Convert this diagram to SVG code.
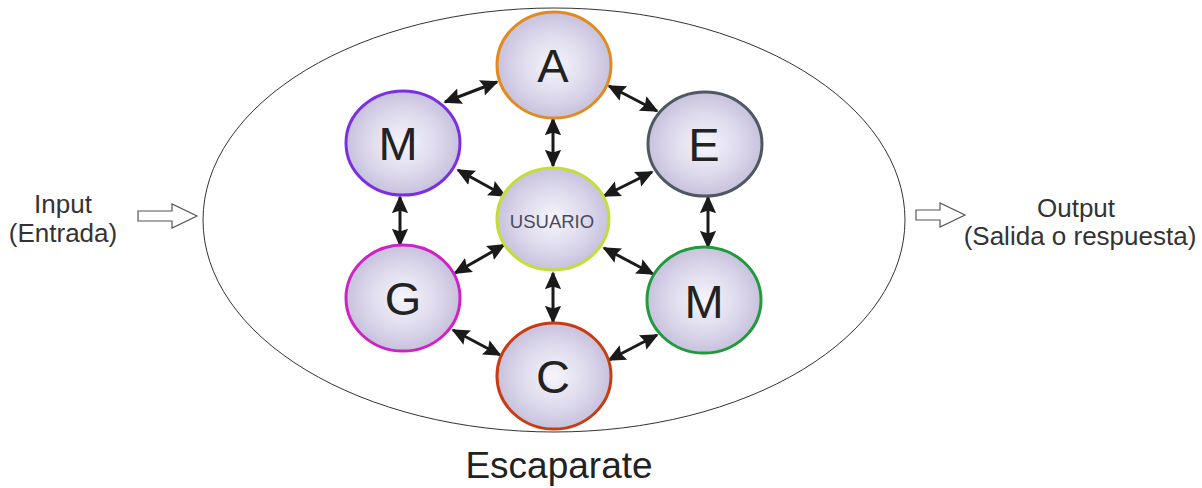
<svg xmlns="http://www.w3.org/2000/svg" width="1202" height="488" viewBox="0 0 1202 488">
<defs>
<radialGradient id="g" cx="50%" cy="50%" r="55%">
<stop offset="0" stop-color="#f6f5fb"/>
<stop offset="0.55" stop-color="#ddd9ec"/>
<stop offset="1" stop-color="#c2bcd9"/>
</radialGradient>
<marker id="ah" viewBox="0 0 10 10" refX="9" refY="5" markerWidth="6" markerHeight="6" orient="auto-start-reverse" markerUnits="strokeWidth">
<path d="M0,0.5 L10,5 L0,9.5 L1.5,5 z" fill="#1a1a1a"/>
</marker>
</defs>
<style>
.n{fill:url(#g);stroke-width:3}
.L{font-family:"Liberation Sans",Arial,sans-serif;font-size:47px;fill:#222;text-anchor:middle}
.t{font-family:"Liberation Sans",Arial,sans-serif;font-size:26px;fill:#333;text-anchor:middle}
.c{stroke:#1a1a1a;stroke-width:3;fill:none;marker-start:url(#ah);marker-end:url(#ah)}
.h{fill:#fff;stroke:#555;stroke-width:1.2}
</style>
<rect width="1202" height="488" fill="#fff"/>
<ellipse id="escaparate" cx="554" cy="220" rx="351" ry="212" fill="none" stroke="#333" stroke-width="1"/>
<g id="connectors">
<line class="c" x1="445" y1="102" x2="497" y2="82"/>
<line class="c" x1="609" y1="86" x2="657" y2="111"/>
<line class="c" x1="553" y1="119" x2="553" y2="166"/>
<line class="c" x1="458" y1="170" x2="505" y2="196"/>
<line class="c" x1="652" y1="172" x2="604" y2="196"/>
<line class="c" x1="400" y1="197" x2="400" y2="245"/>
<line class="c" x1="708" y1="197" x2="708" y2="247"/>
<line class="c" x1="504" y1="245" x2="455" y2="273"/>
<line class="c" x1="604" y1="248" x2="653" y2="274"/>
<line class="c" x1="553" y1="273" x2="553" y2="322"/>
<line class="c" x1="453" y1="330" x2="500" y2="355"/>
<line class="c" x1="657" y1="335" x2="609" y2="360"/>
</g>
<g id="node-A"><ellipse class="n" cx="554" cy="65" rx="57" ry="53" stroke="#e38a1f"/><text class="L" x="553" y="82">A</text></g>
<g id="node-M1"><ellipse class="n" cx="403" cy="143" rx="57" ry="52" stroke="#7b2fe2"/><text class="L" x="398" y="160">M</text></g>
<g id="node-E"><ellipse class="n" cx="705" cy="144" rx="57" ry="52" stroke="#4d5862"/><text class="L" x="704" y="161">E</text></g>
<g id="node-USUARIO"><ellipse class="n" cx="553" cy="219" rx="56" ry="51" stroke="#c6dc3c"/><text x="552" y="228" font-family="Liberation Sans,Arial,sans-serif" font-size="18.5" fill="#4a4a5a" text-anchor="middle">USUARIO</text></g>
<g id="node-G"><ellipse class="n" cx="403" cy="298" rx="57" ry="53" stroke="#d021c6"/><text class="L" x="403" y="315">G</text></g>
<g id="node-M2"><ellipse class="n" cx="704" cy="300" rx="57" ry="53" stroke="#1f9a3c"/><text class="L" x="704" y="318">M</text></g>
<g id="node-C"><ellipse class="n" cx="554" cy="376" rx="57" ry="53" stroke="#c93c12"/><text class="L" x="553" y="393">C</text></g>
<g id="input">
<text class="t" x="63" y="213">Input</text>
<text class="t" x="63" y="242">(Entrada)</text>
<path class="h" d="M138,211 L172,211 L172,204 L197,216 L172,228 L172,221 L138,221 z"/>
</g>
<g id="output">
<path class="h" d="M916,210 L940,210 L940,203 L965,215 L940,227 L940,220 L916,220 z"/>
<text class="t" x="1076" y="217">Output</text>
<text class="t" x="1080" y="245">(Salida o respuesta)</text>
</g>
<text x="559" y="478" font-family="Liberation Sans,Arial,sans-serif" font-size="37" fill="#222" text-anchor="middle">Escaparate</text>
</svg>
